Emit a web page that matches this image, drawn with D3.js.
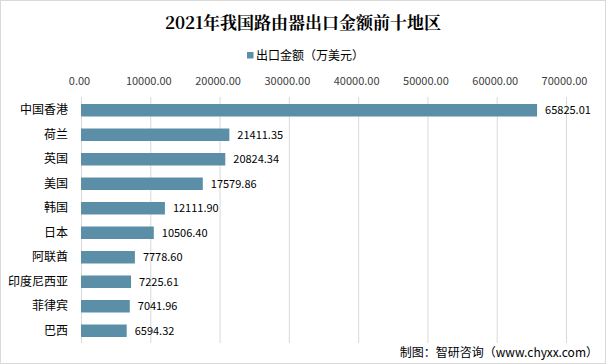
<!DOCTYPE html>
<html><head><meta charset="utf-8">
<script src="https://cdn.jsdelivr.net/npm/d3@7/dist/d3.min.js"></script>
<style>body{margin:0;background:#fff}svg{display:block}</style>
</head><body>
<svg id="c" width="606" height="364"></svg>
<script>
const categories = ["中国香港","荷兰","英国","美国","韩国","日本","阿联酋","印度尼西亚","菲律宾","巴西"];
const values = [65825.01,21411.35,20824.34,17579.86,12111.90,10506.40,7778.60,7225.61,7041.96,6594.32];
const ticks = [0,10000,20000,30000,40000,50000,60000,70000];
const title = "2021年我国路由器出口金额前十地区";
const legendLabel = "出口金额（万美元）";
const source = "制图：智研咨询（www.chyxx.com）";

const svg = d3.select("#c");
const font = "'Microsoft YaHei','Noto Sans CJK SC',sans-serif";
svg.append("rect").attr("x",0.5).attr("y",0.5).attr("width",605).attr("height",363)
  .attr("fill","#fff").attr("stroke","#d9d9d9");

const x = d3.scaleLinear().domain([0,70000]).range([81,566]);
const y = d3.scaleBand().domain(categories).range([98,343]).paddingInner(0.49).paddingOuter(0.245);

// grid
svg.append("g").selectAll("line").data(ticks).join("line")
  .attr("x1",d=>x(d)+0.5).attr("x2",d=>x(d)+0.5).attr("y1",97).attr("y2",343)
  .attr("stroke","#d9d9d9").attr("stroke-width",1);

// top axis labels
const ax = svg.append("g").attr("transform","translate(-2,88)")
  .call(d3.axisTop(x).tickValues(ticks).tickFormat(d3.format(".2f")).tickSize(0));
ax.select(".domain").remove();
ax.selectAll("text").attr("font-family",font).attr("font-size",11).attr("fill","#404040");

// left axis labels
const ay = svg.append("g").attr("transform","translate(74,0)")
  .call(d3.axisLeft(y).tickSize(0).tickPadding(6));
ay.select(".domain").remove();
ay.selectAll("text").attr("font-family",font).attr("font-size",12).attr("fill","#000");

// bars
svg.append("g").selectAll("rect").data(categories).join("rect")
  .attr("x",x(0)).attr("y",d=>y(d)).attr("height",y.bandwidth())
  .attr("width",(d,i)=>x(values[i])-x(0)).attr("fill","#5b8fa7");

// value labels
svg.append("g").selectAll("text").data(categories).join("text")
  .attr("x",(d,i)=>x(values[i])+8).attr("y",d=>y(d)+y.bandwidth()/2).attr("dy","0.35em")
  .attr("font-family",font).attr("font-size",11).attr("fill","#000")
  .text((d,i)=>d3.format(".2f")(values[i]));

// title
svg.append("text").attr("x",303).attr("y",29).attr("text-anchor","middle")
  .attr("font-family","'Noto Serif CJK SC','Noto Sans CJK SC',serif").attr("font-weight","bold")
  .attr("font-size",17).attr("fill","#000").text(title);

// legend
svg.append("rect").attr("x",247).attr("y",52).attr("width",6.5).attr("height",6.5).attr("fill","#5b8fa7");
svg.append("text").attr("x",256).attr("y",59.5).attr("font-family",font).attr("font-size",12)
  .attr("fill","#000").text(legendLabel);

// source
svg.append("text").attr("x",598).attr("y",357).attr("text-anchor","end")
  .attr("font-family",font).attr("font-size",12).attr("fill","#000").text(source);
</script>
</body></html>
